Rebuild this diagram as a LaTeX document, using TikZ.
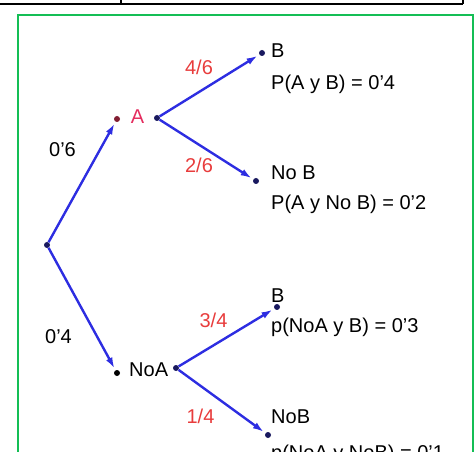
\documentclass[tikz,border=0pt]{standalone}
\usepackage{fontspec}
\setmainfont{Liberation Sans}
\usetikzlibrary{arrows.meta}
\definecolor{rama}{RGB}{45,45,225}
\definecolor{prob}{RGB}{232,60,60}
\definecolor{marco}{RGB}{20,190,85}
\definecolor{punto}{RGB}{25,25,95}
\definecolor{puntoA}{RGB}{130,30,50}
\definecolor{letraA}{RGB}{228,45,95}
\begin{document}
\begin{tikzpicture}[x=1pt,y=-1pt,
  every node/.style={font=\fontsize{20}{22}\selectfont,inner sep=0pt},
  dot/.style={circle,fill=punto,minimum size=6pt},
  branch/.style={rama,line width=2.4pt,-{Latex[length=11pt,width=7pt]},shorten >=2pt},
  txt/.style={anchor=base west},
  pr/.style={anchor=base,prob}]
 \useasboundingbox (0,0) rectangle (475,452);
 \clip (0,0) rectangle (475,452);
 % marco
 \draw[line width=2.2pt](0,4)--(463,4);
 \draw[line width=2.2pt](121,0)--(121,4);
 \draw[line width=2.2pt](463,0)--(463,4);
 \draw[marco,line width=2.4pt](18,470)--(18,15)--(473,15)--(473,470);
 % puntos
 \node[dot] (raiz) at (47,245) {};
 \node[dot,fill=puntoA] (A) at (117,119) {};
 \node[dot] (Ad) at (157,118) {};
 \node[dot] (B) at (262,53) {};
 \node[dot] (noB) at (256,181) {};
 \node[dot,fill=black] (noA) at (117,373) {};
 \node[dot] (noAd) at (176,368) {};
 \node[dot] (B2) at (277,307) {};
 \node[dot] (noB2) at (268,435) {};
 % ramas
 \draw[branch] (raiz) -- (A);
 \draw[branch] (raiz) -- (noA);
 \draw[branch] (Ad) -- (B);
 \draw[branch] (Ad) -- (noB);
 \draw[branch] (noAd) -- (B2);
 \draw[branch] (noAd) -- (noB2);
 % textos
 \node[anchor=base,letraA] (tA) at (137.5,124) {A};
 \node[txt] (tnoA) at (129,377) {NoA};
 \node[txt] (tB) at (271,58) {B};
 \node[txt] (pAB) at (271,90) {P(A y B) = 0'4};
 \node[txt] (tnoB) at (271,180) {No B};
 \node[txt] (pAnoB) at (271,210) {P(A y No B) = 0'2};
 \node[txt] (tB2) at (271,302) {B};
 \node[txt] (pnoAB) at (271,332) {p(NoA y B) = 0'3};
 \node[txt] (tnoB2) at (271,423) {NoB};
 \node[txt] (pnoAnoB) at (271,459) {p(NoA y NoB) = 0'1};
 \node[anchor=base] (p06) at (62.5,157) {0'6};
 \node[anchor=base] (p04) at (58.5,344) {0'4};
 \node[pr] (p46) at (199,75) {4/6};
 \node[pr] (p26) at (199,173) {2/6};
 \node[pr] (p34) at (213.5,327) {3/4};
 \node[pr] (p14) at (200.5,424) {1/4};
\end{tikzpicture}
\end{document}
